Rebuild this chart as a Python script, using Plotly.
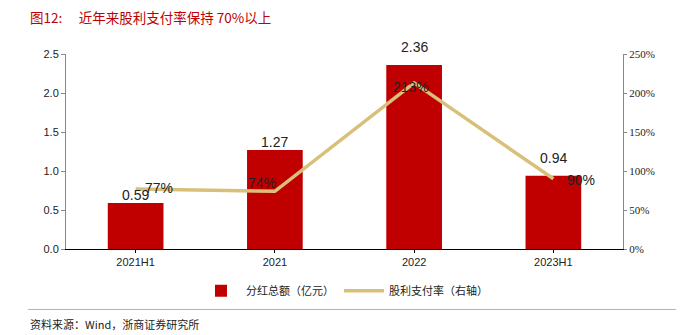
import plotly.graph_objects as go

categories = ["2021H1", "2021", "2022", "2023H1"]
dividends = [0.59, 1.27, 2.36, 0.94]
payout = [77, 74, 213, 90]

# label offsets (pixels) for the payout-ratio labels
payout_xshift = [23, -13, -3, 28]
payout_yshift = [1, 8, -4, -1]
# label offsets (pixels) above bar tops
div_yshift = [8, 8, 18, 18]

red = "#c00000"
gold = "#d8c07a"
lab_font = dict(family="Arial, Liberation Sans", size=14, color="#222")

fig = go.Figure()
fig.add_trace(go.Bar(
    x=categories, y=dividends, name="分红总额（亿元）",
    marker=dict(color=red, line=dict(width=0)), width=0.4,
))
fig.add_trace(go.Scatter(
    x=categories, y=payout, name="股利支付率（右轴）", yaxis="y2",
    mode="lines", line=dict(color=gold, width=3.5), cliponaxis=False,
))

annotations = []
for i, (v, ys) in enumerate(zip(dividends, div_yshift)):
    annotations.append(dict(x=i, y=v, xref="x", yref="y", text=f"{v:.2f}",
                            showarrow=False, yanchor="middle", yshift=ys,
                            font=lab_font))
for i, (v, xs, ys) in enumerate(zip(payout, payout_xshift, payout_yshift)):
    annotations.append(dict(x=i, y=v, xref="x", yref="y2", text=f"{v}%",
                            showarrow=False, yanchor="middle", xshift=xs, yshift=ys,
                            font=lab_font))
annotations += [
    dict(text="图12:　 近年来股利支付率保持 70%以上", xref="paper", yref="paper",
         x=-0.068, y=1.19, xanchor="left", yanchor="middle", showarrow=False,
         font=dict(family="Noto Sans CJK SC", size=13.5, color="#c00000")),
    dict(text="资料来源：Wind，浙商证券研究所", xref="paper", yref="paper",
         x=-0.068, y=-0.385, xanchor="left", yanchor="middle", showarrow=False,
         font=dict(family="Noto Sans CJK SC", size=11, color="#222")),
]

fig.update_layout(
    width=681, height=335,
    margin=dict(l=66, r=58, t=54, b=86),
    plot_bgcolor="white", paper_bgcolor="white",
    showlegend=True,
    legend=dict(orientation="h", x=0.5, xanchor="center", y=-0.14, yanchor="top",
                font=dict(family="Noto Sans CJK SC", size=11, color="#222"),
                itemwidth=40, traceorder="normal"),
    xaxis=dict(type="category", showline=True, linecolor="#000", linewidth=1,
               ticks="outside", tickcolor="#000", ticklen=3,
               tickfont=dict(family="Arial, Liberation Sans", size=11, color="#222"),
               showgrid=False),
    yaxis=dict(range=[0, 2.5], dtick=0.5, tickformat=".1f", showline=True,
               linecolor="#888", linewidth=1, ticks="outside", tickcolor="#888",
               ticklen=4, showgrid=False, zeroline=False,
               tickfont=dict(family="Arial, Liberation Sans", size=11, color="#222")),
    yaxis2=dict(range=[0, 250], dtick=50, ticksuffix="%", overlaying="y", side="right",
                showline=True, linecolor="#888", linewidth=1, ticks="outside",
                tickcolor="#888", ticklen=3, showgrid=False, zeroline=False,
                tickfont=dict(family="Liberation Serif, Times New Roman", size=11, color="#222")),
    annotations=annotations,
    shapes=[
        dict(type="line", xref="paper", yref="paper", x0=-0.068, x1=1.095,
             y0=-0.31, y1=-0.31, line=dict(color="#d9a0a0", width=1)),
    ],
)

fig.write_html("out.html")
